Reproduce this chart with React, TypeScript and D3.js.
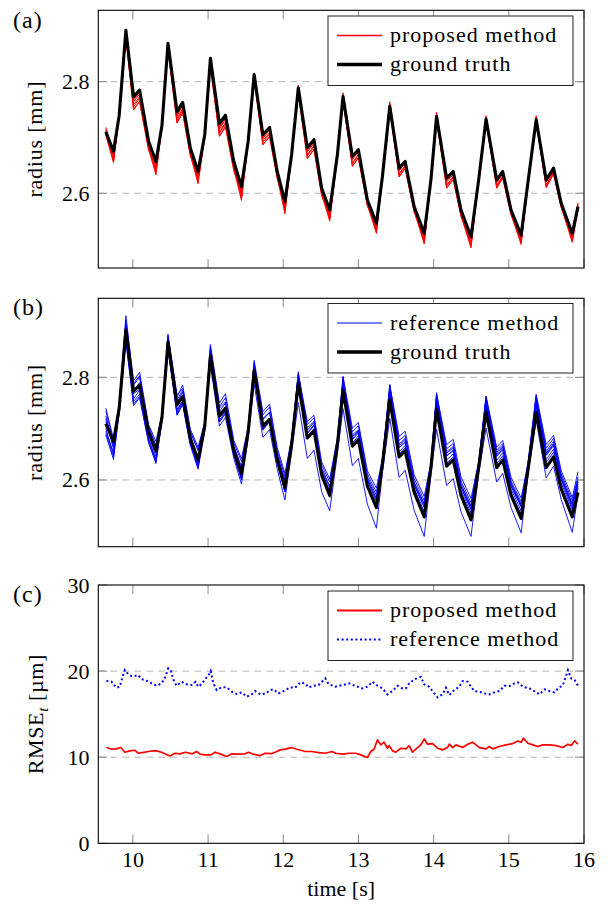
import React from "react";
import * as d3 from "d3";

// ---------- data ----------
// vertex times of the ground-truth waveform [s]
const timeS = [
  9.64, 9.742, 9.818, 9.907, 10.009, 10.089, 10.209, 10.307, 10.387, 10.467,
  10.587, 10.662, 10.764, 10.867, 10.956, 11.031, 11.151, 11.231, 11.342, 11.444,
  11.533, 11.613, 11.729, 11.818, 11.92, 12.022, 12.111, 12.2, 12.32, 12.409,
  12.511, 12.618, 12.72, 12.795, 12.919, 12.999, 13.119, 13.239, 13.319, 13.417,
  13.541, 13.621, 13.741, 13.875, 13.964, 14.039, 14.173, 14.261, 14.364, 14.497,
  14.599, 14.697, 14.839, 14.919, 15.03, 15.164, 15.253, 15.364, 15.497, 15.595,
  15.697, 15.844, 15.92,
];
// ground truth radius [mm]
const groundTruthMm = [
  2.71, 2.675, 2.74, 2.892, 2.773, 2.785, 2.693, 2.657, 2.722, 2.869,
  2.746, 2.763, 2.681, 2.639, 2.705, 2.842, 2.725, 2.74, 2.657, 2.612,
  2.693, 2.813, 2.705, 2.718, 2.639, 2.585, 2.669, 2.789, 2.682, 2.696,
  2.609, 2.57, 2.669, 2.774, 2.666, 2.678, 2.588, 2.546, 2.63, 2.756,
  2.645, 2.657, 2.576, 2.528, 2.624, 2.738, 2.627, 2.639, 2.57, 2.522,
  2.624, 2.733, 2.624, 2.639, 2.57, 2.525, 2.618, 2.732, 2.624, 2.645,
  2.582, 2.528, 2.576,
];

// proposed-method runs: deviation from ground truth at each vertex [µm]
const proposedRun1 = [8,-4, 2,-3,-6,-4,-2,-8, 1,-2,-5,-3,-1,-6, 3,-4,-7,-5,-3,-9, 0,-1,-4,-2,-2,-7, 2,-2,-6,-3,-1,-5, 1,0,-3,-2,-2,-6, 3,3,-2,-1,0,-4, 2,4,-4,-2,-1,-5, 1,2,-3,0,-2,-6, 2,3,-2,-1,0,-4, 4];
const proposedRun2 = [3,-12, -2,-8,-14,-12,-8,-16, -1,-6,-12,-11,-6,-14, -3,-9,-15,-13,-9,-18, -2,-5,-11,-9,-7,-15, 0,-6,-13,-10,-6,-14, -2,-4,-12,-8,-5,-12, -1,-2,-10,-7,-4,-13, 0,-3,-12,-9,-6,-15, -2,-1,-10,-7,-5,-12, -1,0,-9,-6,-4,-11, -2];
const proposedRun3 = [-6,-20, -4,-12,-24,-20,-14,-24, -3,-10,-20,-18,-12,-22, -5,-14,-22,-19,-13,-25, -3,-8,-18,-16,-10,-22, -2,-9,-20,-17,-11,-20, -4,-7,-18,-14,-9,-18, -3,-5,-16,-12,-8,-19, -2,-6,-18,-14,-10,-20, -3,-4,-15,-11,-8,-17, -2,-3,-14,-10,-7,-16, -6];
const proposedRun4 = [5,-6, 3,-1,-3,-1,0,-5, 2,2,-2,0,1,-4, 4,0,-4,-2,-1,-6, 2,3,-1,1,0,-3, 3,5,-2,0,1,-4, 2,6,-1,2,1,-2, 4,8,0,1,2,-3, 3,7,-2,1,1,-2, 2,6,0,2,0,-4, 3,7,1,1,2,-2, 7];
const proposedRun5 = [-2,-16, -1,-6,-18,-15,-11,-14, 0,-4,-16,-14,-9,-12, -2,-7,-17,-15,-10,-15, -1,-3,-14,-12,-8,-13, 0,-4,-15,-13,-9,-12, -1,-2,-13,-11,-8,-11, 0,0,-12,-9,-7,-12, -1,-1,-14,-11,-8,-13, 0,1,-11,-9,-6,-10, -1,0,-10,-8,-6,-9, 0];
const proposedRun6 = [1,-18, 0,-2,-9,-7,-5,-20, 1,0,-8,-6,-4,-18, -1,-3,-10,-8,-6,-21, 0,1,-7,-5,-4,-17, 1,0,-8,-6,-3,-16, 0,2,-6,-4,-3,-15, 1,4,-5,-3,-2,-16, 0,3,-7,-5,-4,-17, 1,4,-5,-3,-3,-14, 0,4,-4,-3,-2,-13, 2];
const proposedRun7 = [-4,-8, -3,-15,-22,-21,-16,-10, -2,-12,-20,-19,-14,-9, -4,-16,-23,-22,-17,-12, -2,-10,-18,-17,-13,-8, -1,-11,-19,-18,-14,-9, -3,-8,-17,-15,-11,-7, -2,-6,-15,-13,-10,-8, -1,-7,-17,-15,-12,-10, -2,-5,-14,-12,-9,-7, -1,-4,-13,-11,-8,-6, -3];

// reference-method runs: deviation from ground truth at each vertex [µm]
const referenceRun1 = [-20,-30, -10,-20,-25,-22,-20,-22, -8,-15,-18,-16,-14,-18, -10,-18,-20,-18,-15,-20, -12,-26,-22,-20,-18,-24, -15,-38,-40,-38,-32,-30, -18,-35,-38,-36,-35,-40, -15,-36,-40,-38,-35,-38, -14,-39,-38,-36,-32,-32, -12,-32,-28,-26,-24,-28, -10,-15,-20,-18,-20,-30, -5];
const referenceRun2 = [30,5, 8,28,20,25,15,18, 6,12,15,22,18,25, 8,22,25,28,20,30, 10,20,28,30,24,28, 12,18,32,30,26,32, 14,28,35,34,30,38, 12,29,40,38,34,40, 10,30,42,40,36,42, 12,30,40,38,35,40, 14,35,45,42,36,38, 40];
const referenceRun3 = [15,-5, 5,10,12,15,10,8, 4,8,10,12,14,18, 6,18,18,20,16,24, 8,12,22,24,18,22, 10,16,26,25,20,26, 10,22,28,28,24,30, 9,25,32,30,27,32, 8,26,34,32,28,34, 9,28,34,32,28,33, 10,30,38,36,30,32, 30];
const referenceRun4 = [-10,-25, 0,-15,-15,-10,-12,-20, 2,-5,-12,-8,-6,-15, 0,-8,-10,-6,-8,-12, 2,0,-5,-2,-4,-8, 4,5,8,10,6,5, 5,10,12,14,10,12, 6,15,18,16,14,18, 5,18,20,18,16,22, 6,20,22,20,18,24, 7,22,25,24,20,22, 20];
const referenceRun5 = [25,0, 6,20,15,18,12,10, 5,15,20,15,12,20, 5,12,15,12,10,14, 6,10,15,14,12,16, 8,12,20,18,14,18, 8,18,22,20,18,24, 7,20,25,24,20,26, 6,22,28,26,22,28, 7,24,30,28,24,28, 8,26,32,30,26,26, 26];
const referenceRun6 = [-22,-35, -5,-22,-28,-25,-20,-25, -3,-10,-20,-15,-10,-10, -4,-5,-12,-10,-6,-8, -2,-5,-8,-5,-3,-5, 0,0,2,4,2,0, 2,5,6,8,5,5, 3,8,10,10,8,10, 2,10,12,12,10,14, 3,12,14,14,12,15, 4,15,16,15,12,14, 12];
const referenceRun7 = [5,-10, 3,5,-5,-8,-5,-12, 2,0,-8,-10,-6,-8, 3,2,-4,-5,-2,-5, 2,5,0,2,0,2, 4,8,10,12,8,8, 4,12,15,16,12,15, 3,14,18,18,14,20, 3,15,20,20,16,20, 4,18,22,22,18,22, 5,18,24,22,18,18, 16];
const referenceRun8 = [-15,-22, -2,-10,-20,-18,-14,-18, 0,-8,-15,-12,-10,-12, -2,-10,-12,-10,-8,-10, 0,-4,-6,-4,-5,-8, 2,2,0,2,0,-4, 2,4,2,4,2,2, 1,5,5,6,4,6, 2,6,6,6,5,8, 2,8,8,8,6,8, 3,10,10,9,6,8, 8];
const referenceRun9 = [10,-15, 4,12,0,5,2,-5, 3,8,5,8,6,5, 4,10,8,10,8,10, 3,15,12,14,10,12, 5,22,15,16,12,14, 6,26,18,18,15,18, 5,30,22,22,18,24, 4,32,25,24,20,26, 5,30,26,25,22,26, 6,32,28,26,22,24, 22];

// RMSE_t of the proposed method [µm]
const proposedRmseT = [
  9.648, 9.715, 9.781, 9.839, 9.893, 9.959, 10.026, 10.07, 10.159, 10.204,
  10.301, 10.381, 10.492, 10.559, 10.626, 10.701, 10.79, 10.848, 10.893, 10.959,
  11.039, 11.093, 11.159, 11.248, 11.315, 11.381, 11.493, 11.537, 11.604, 11.693,
  11.759, 11.848, 11.915, 11.959, 12.026, 12.106, 12.181, 12.293, 12.381, 12.47,
  12.559, 12.648, 12.697, 12.786, 12.875, 12.964, 13.03, 13.119, 13.164, 13.208,
  13.253, 13.297, 13.341, 13.386, 13.408, 13.453, 13.497, 13.564, 13.63, 13.675,
  13.719, 13.786, 13.83, 13.875, 13.919, 13.986, 14.053, 14.119, 14.186, 14.208,
  14.253, 14.297, 14.386, 14.453, 14.519, 14.564, 14.608, 14.697, 14.741, 14.786,
  14.875, 14.964, 15.053, 15.119, 15.164, 15.195, 15.253, 15.319, 15.386, 15.453,
  15.541, 15.63, 15.719, 15.786, 15.83, 15.875, 15.919,
];
const proposedRmse = [
  11.12, 10.93, 10.97, 11.12, 10.58, 10.73, 10.81, 10.46, 10.58, 10.66,
  10.77, 10.58, 10.15, 10.46, 10.39, 10.58, 10.39, 10.66, 10.35, 10.27,
  10.27, 10.58, 10.39, 10.08, 10.39, 10.35, 10.39, 10.58, 10.35, 10.19,
  10.46, 10.42, 10.66, 10.85, 10.93, 11.12, 10.93, 10.66, 10.66, 10.54,
  10.46, 10.66, 10.46, 10.35, 10.46, 10.46, 10.27, 9.96, 10.66, 10.93,
  12.01, 11.43, 11.74, 11.04, 11.35, 10.73, 10.58, 11.04, 10.97, 11.35,
  10.58, 11.12, 11.43, 12.12, 11.51, 11.58, 11.04, 10.85, 11.12, 11.51,
  11.12, 11.43, 11.12, 11.51, 11.74, 11.43, 11.12, 10.97, 11.24, 10.97,
  11.24, 11.43, 11.58, 11.89, 11.74, 12.2, 11.62, 11.43, 11.24, 11.43,
  11.43, 11.35, 11.12, 11.51, 11.35, 11.89, 11.51,
];

// RMSE_t of the reference method [µm]
const referenceRmseT = [
  9.648, 9.715, 9.781, 9.826, 9.857, 9.893, 9.937, 9.981, 10.026, 10.07,
  10.115, 10.181, 10.248, 10.315, 10.381, 10.426, 10.47, 10.506, 10.537, 10.581,
  10.648, 10.715, 10.781, 10.835, 10.87, 10.915, 10.959, 11.004, 11.035, 11.07,
  11.115, 11.181, 11.248, 11.315, 11.381, 11.448, 11.515, 11.581, 11.626, 11.693,
  11.759, 11.826, 11.87, 11.937, 12.004, 12.093, 12.159, 12.226, 12.293, 12.337,
  12.404, 12.47, 12.559, 12.604, 12.693, 12.786, 12.875, 12.964, 13.053, 13.119,
  13.186, 13.253, 13.319, 13.386, 13.453, 13.519, 13.586, 13.63, 13.675, 13.741,
  13.83, 13.875, 13.941, 14.008, 14.053, 14.119, 14.164, 14.208, 14.275, 14.341,
  14.386, 14.453, 14.497, 14.541, 14.608, 14.675, 14.741, 14.808, 14.875, 14.941,
  15.008, 15.075, 15.119, 15.186, 15.275, 15.364, 15.408, 15.475, 15.541, 15.608,
  15.653, 15.719, 15.764, 15.786, 15.83, 15.875, 15.919,
];
const referenceRmse = [
  18.88, 18.76, 18.07, 18.19, 19.15, 20.12, 19.65, 19.42, 19.42, 19.54,
  19.07, 18.88, 18.57, 18.3, 18.57, 19.23, 20.31, 20.0, 19.03, 18.3,
  18.76, 18.46, 18.38, 18.76, 18.19, 18.49, 19.07, 19.46, 20.0, 18.57,
  17.8, 18.11, 18.11, 17.61, 17.34, 17.53, 17.03, 17.3, 17.68, 17.3,
  17.37, 17.8, 17.88, 17.41, 17.68, 18.11, 18.07, 18.69, 18.57, 18.11,
  18.3, 18.38, 19.15, 18.49, 18.19, 18.38, 18.57, 18.26, 17.99, 18.19,
  18.76, 18.3, 17.99, 17.3, 17.68, 18.3, 17.99, 17.99, 18.57, 19.03,
  19.34, 18.46, 18.19, 17.41, 16.95, 17.3, 18.07, 17.22, 17.8, 18.19,
  18.84, 18.76, 18.19, 17.68, 17.61, 17.41, 17.3, 17.53, 17.68, 18.3,
  18.26, 18.57, 18.69, 18.19, 17.99, 17.53, 17.3, 17.88, 17.68, 17.53,
  17.99, 18.38, 19.54, 20.12, 19.15, 18.96, 18.3,
];

const xTickValues = [10, 11, 12, 13, 14, 15, 16];
const radiusTicks = [2.6, 2.8];
const rmseTicks = [0, 10, 20, 30];

const proposedRuns = [proposedRun1, proposedRun2, proposedRun3, proposedRun4, proposedRun5, proposedRun6, proposedRun7];
const referenceRuns = [referenceRun1, referenceRun2, referenceRun3, referenceRun4, referenceRun5, referenceRun6, referenceRun7, referenceRun8, referenceRun9];

// ---------- layout ----------
const W = 608;
const H = 908;
const FONT = "Liberation Serif, DejaVu Serif, serif";
const FS = 22;
const LEFT = 98.3;
const RIGHT = 584;
const GRID = "#b4b4b4";
const TICKC = "#8a8a8a";
const TICKLEN = 9;

const x = d3.scaleLinear().domain([9.54, 16]).range([LEFT, RIGHT]);

type Pt = [number, number];

const txt = (size: number, spacing = 0): React.CSSProperties => ({
  fontFamily: FONT,
  fontSize: size + "px",
  letterSpacing: spacing + "px",
});

function Grid({ y, yTicks }: any) {
  return (
    <g>
      {yTicks.map((v: number) => (
        <line key={"g" + v} x1={LEFT} x2={RIGHT} y1={y(v)} y2={y(v)} stroke={GRID} strokeWidth={1} strokeDasharray="7 5" />
      ))}
    </g>
  );
}

function Axes({ y, top, bottom, yTicks, fmt, xLabels }: any) {
  return (
    <g>
      {xTickValues.map((t) => (
        <g key={"xt" + t}>
          <line x1={x(t)} x2={x(t)} y1={top} y2={top + TICKLEN} stroke={TICKC} strokeWidth={1} />
          <line x1={x(t)} x2={x(t)} y1={bottom} y2={bottom - TICKLEN} stroke={TICKC} strokeWidth={1} />
        </g>
      ))}
      {yTicks.map((v: number) => (
        <g key={"yt" + v}>
          <line x1={LEFT} x2={LEFT + TICKLEN} y1={y(v)} y2={y(v)} stroke={TICKC} strokeWidth={1} />
          <line x1={RIGHT} x2={RIGHT - TICKLEN} y1={y(v)} y2={y(v)} stroke={TICKC} strokeWidth={1} />
          <text x={89.5} y={y(v) + 7.5} textAnchor="end" style={txt(FS)}>{fmt(v)}</text>
        </g>
      ))}
      <rect x={LEFT} y={top} width={RIGHT - LEFT} height={bottom - top} fill="none" stroke="#000" strokeWidth={1.1} />
      {xLabels &&
        xTickValues.map((t) => (
          <text key={"xl" + t} x={x(t)} y={867} textAnchor="middle" style={txt(FS)}>{String(t)}</text>
        ))}
    </g>
  );
}

function Legend({ top, entries }: any) {
  const lx = 328;
  const rx = 573;
  return (
    <g>
      <rect x={lx} y={top} width={rx - lx} height={69.5} fill="#fff" stroke="#222" strokeWidth={1} />
      {entries.map((e: any, i: number) => {
        const yy = top + 19.5 + i * 29;
        return (
          <g key={i}>
            <line x1={337} x2={382} y1={yy} y2={yy} stroke={e.color} strokeWidth={e.width} strokeDasharray={e.dash || undefined} />
            <text x={390} y={yy + 6.5} style={txt(FS, 1)}>{e.label}</text>
          </g>
        );
      })}
    </g>
  );
}

export default function App() {
  const yA = d3.scaleLinear().domain([2.466, 2.928]).range([268, 10.3]);
  const yB = d3.scaleLinear().domain([2.47, 2.954]).range([546.7, 298.3]);
  const yC = d3.scaleLinear().domain([0, 30]).range([843.3, 585]);

  const lineA = d3.line<Pt>().x((d) => x(d[0])).y((d) => yA(d[1]));
  const lineB = d3.line<Pt>().x((d) => x(d[0])).y((d) => yB(d[1]));
  const lineC = d3.line<Pt>().x((d) => x(d[0])).y((d) => yC(d[1]));

  const gt: Pt[] = timeS.map((t, i) => [t, groundTruthMm[i]]);
  const runPts = (run: number[]): Pt[] => run.map((d, i) => [timeS[i], groundTruthMm[i] + d / 1000]);

  const fmtR = (v: number) => v.toFixed(1);
  const fmtC = (v: number) => String(v);

  const propC: Pt[] = proposedRmseT.map((t, i) => [t, proposedRmse[i]]);
  const refC: Pt[] = referenceRmseT.map((t, i) => [t, referenceRmse[i]]);

  return (
    <div style={{ position: "absolute", left: 0, top: 0, background: "#fff" }}>
      <svg width={W} height={H} viewBox={`0 0 ${W} ${H}`} style={{ display: "block" }}>
        <rect width={W} height={H} fill="#fff" />
        <defs>
          <clipPath id="clipA"><rect x={LEFT} y={10.3} width={RIGHT - LEFT} height={268 - 10.3} /></clipPath>
          <clipPath id="clipB"><rect x={LEFT} y={298.3} width={RIGHT - LEFT} height={546.7 - 298.3} /></clipPath>
          <clipPath id="clipC"><rect x={LEFT} y={585} width={RIGHT - LEFT} height={843.3 - 585} /></clipPath>
        </defs>

        {/* panel (a) */}
        <Grid y={yA} yTicks={radiusTicks} />
        <g clipPath="url(#clipA)" fill="none">
          {proposedRuns.map((r, i) => (
            <path key={i} d={lineA(runPts(r)) || ""} stroke="#ff0000" strokeWidth={1} strokeLinejoin="round" />
          ))}
          <path d={lineA(gt) || ""} stroke="#000" strokeWidth={3.1} strokeLinejoin="round" />
        </g>
        <Axes y={yA} top={10.3} bottom={268} yTicks={radiusTicks} fmt={fmtR} />
        <Legend
          top={16}
          entries={[
            { label: "proposed method", color: "#ff0000", width: 1.3 },
            { label: "ground truth", color: "#000", width: 3.4 },
          ]}
        />
        <text x={13} y={28} style={txt(24, 1)}>(a)</text>
        <text transform={`translate(42,${(10.3 + 268) / 2}) rotate(-90)`} textAnchor="middle" style={txt(FS, 0.8)}>radius [mm]</text>

        {/* panel (b) */}
        <Grid y={yB} yTicks={radiusTicks} />
        <g clipPath="url(#clipB)" fill="none">
          {referenceRuns.map((r, i) => (
            <path key={i} d={lineB(runPts(r)) || ""} stroke="#0000ff" strokeWidth={0.9} strokeLinejoin="round" />
          ))}
          <path d={lineB(gt) || ""} stroke="#000" strokeWidth={3.1} strokeLinejoin="round" />
        </g>
        <Axes y={yB} top={298.3} bottom={546.7} yTicks={radiusTicks} fmt={fmtR} />
        <Legend
          top={303.5}
          entries={[
            { label: "reference method", color: "#0000ff", width: 1.2 },
            { label: "ground truth", color: "#000", width: 3.4 },
          ]}
        />
        <text x={13} y={315} style={txt(24, 1)}>(b)</text>
        <text transform={`translate(42,${(298.3 + 546.7) / 2}) rotate(-90)`} textAnchor="middle" style={txt(FS, 0.8)}>radius [mm]</text>

        {/* panel (c) */}
        <Grid y={yC} yTicks={[10, 20]} />
        <g clipPath="url(#clipC)" fill="none">
          <path d={lineC(propC) || ""} stroke="#ff0000" strokeWidth={1.7} strokeLinejoin="round" />
          <path d={lineC(refC) || ""} stroke="#0000ff" strokeWidth={2} strokeDasharray="2 2.6" />
        </g>
        <Axes y={yC} top={585} bottom={843.3} yTicks={rmseTicks} fmt={fmtC} xLabels />
        <Legend
          top={591}
          entries={[
            { label: "proposed method", color: "#ff0000", width: 1.8 },
            { label: "reference method", color: "#0000ff", width: 2, dash: "2 2.6" },
          ]}
        />
        <text x={13} y={602} style={txt(24, 1)}>(c)</text>
        <text transform={`translate(43,${(585 + 843.3) / 2}) rotate(-90)`} textAnchor="middle" style={txt(FS, 0.6)}>
          RMSE<tspan fontStyle="italic" style={{ fontSize: "15px" }} dy={5}>t</tspan><tspan dy={-5}> [µm]</tspan>
        </text>
        <text x={(LEFT + RIGHT) / 2} y={896} textAnchor="middle" style={txt(FS)}>time [s]</text>
      </svg>
    </div>
  );
}
